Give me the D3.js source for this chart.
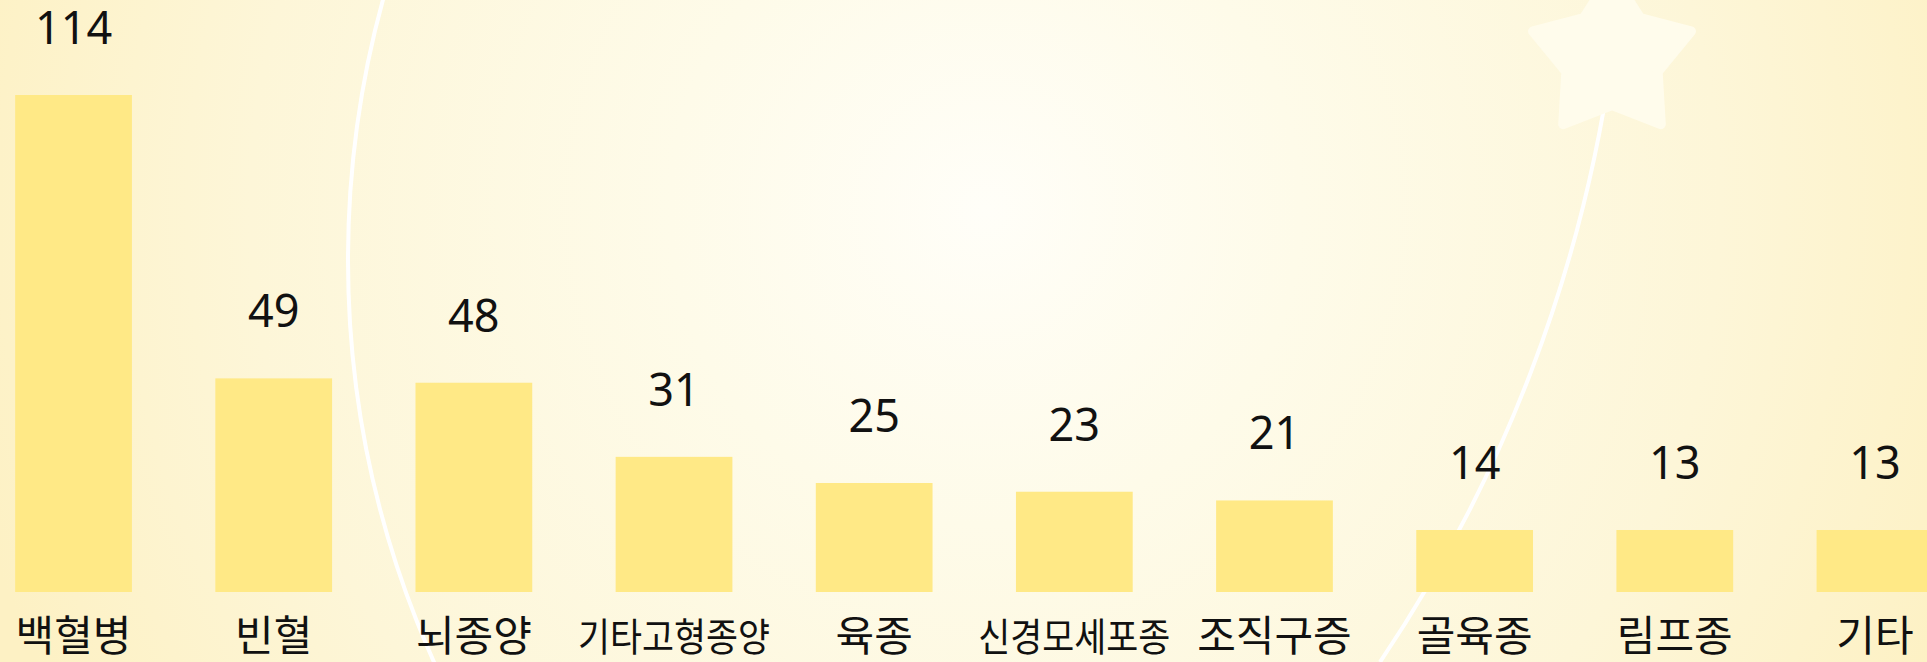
<!DOCTYPE html>
<html lang="ko">
<head>
<meta charset="UTF-8">
<title>소아암 종류별 환자 수</title>
<script src="https://d3js.org/d3.v7.min.js"></script>
<style>
  html, body { margin: 0; padding: 0; overflow: hidden; }
  svg { display: block; }
</style>
</head>
<body>
<script>
var categories = ['백혈병', '빈혈', '뇌종양', '기타고형종양', '육종', '신경모세포종', '조직구증', '골육종', '림프종', '기타'];
var values = [114, 49, 48, 31, 25, 23, 21, 14, 13, 13];

var width = 1927, height = 662;
var baseY = 592;
var minBar = 62;

var svg = d3.select('body').append('svg')
    .attr('width', width)
    .attr('height', height);

// background glow
var defs = svg.append('defs');
var grad = defs.append('radialGradient')
    .attr('id', 'bg')
    .attr('gradientUnits', 'userSpaceOnUse')
    .attr('cx', 985).attr('cy', 210).attr('r', 1050);
grad.append('stop').attr('offset', '0').attr('stop-color', '#fffef8');
grad.append('stop').attr('offset', '0.3').attr('stop-color', '#fefbe9');
grad.append('stop').attr('offset', '0.7').attr('stop-color', '#fdf6d8');
grad.append('stop').attr('offset', '1').attr('stop-color', '#fdf1c4');

svg.append('rect')
    .attr('width', width).attr('height', height)
    .attr('fill', 'url(#bg)');

// decorative white curves + star
var deco = svg.append('g');
deco.append('circle')
    .attr('cx', 1331).attr('cy', 260).attr('r', 983)
    .attr('fill', 'none')
    .attr('stroke', '#ffffff')
    .attr('stroke-width', 4);

var starX = 1612, starY = 57;
deco.append('path')
    .attr('d', 'M' + starX + ',' + starY + ' A1434,1434 0 0,1 1380,662')
    .attr('fill', 'none')
    .attr('stroke', '#ffffff')
    .attr('stroke-width', 4);

var starPts = d3.range(10).map(function(i) {
    var a = -Math.PI / 2 + i * Math.PI / 5;
    var r = i % 2 === 0 ? 83 : 48;
    return [starX + r * Math.cos(a), starY + r * Math.sin(a)];
});
deco.append('path')
    .attr('d', d3.line()(starPts) + 'Z')
    .attr('fill', '#fffcec')
    .attr('stroke', '#fffcec')
    .attr('stroke-width', 10)
    .attr('stroke-linejoin', 'round');

// scales
var x = d3.scaleBand()
    .domain(categories)
    .range([-1.5, 1950])
    .paddingInner(0.4167)
    .paddingOuter(0.0833);

var y = d3.scaleLinear()
    .domain([0, 114])
    .range([baseY, 95]);

function barTop(v) {
    return Math.min(y(v), baseY - minBar);
}

var data = categories.map(function(c, i) { return { name: c, value: values[i] }; });

svg.selectAll('rect.bar')
    .data(data)
    .enter()
    .append('rect')
    .attr('class', 'bar')
    .attr('x', function(d) { return x(d.name); })
    .attr('y', function(d) { return barTop(d.value); })
    .attr('width', x.bandwidth())
    .attr('height', function(d) { return baseY - barTop(d.value); })
    .attr('fill', '#ffe986');

svg.selectAll('text.val')
    .data(data)
    .enter()
    .append('text')
    .attr('class', 'val')
    .attr('x', function(d) { return x(d.name) + x.bandwidth() / 2; })
    .attr('y', function(d) { return barTop(d.value) - 51; })
    .attr('text-anchor', 'middle')
    .attr('font-family', '"Noto Sans", sans-serif')
    .attr('font-size', '45px')
    .attr('fill', '#111')
    .text(function(d) { return d.value; });

// long names are squeezed to fit the band, as in the original
var maxLabel = 192;
svg.selectAll('text.cat')
    .data(data)
    .enter()
    .append('text')
    .attr('class', 'cat')
    .attr('x', function(d) { return x(d.name) + x.bandwidth() / 2; })
    .attr('y', 651)
    .attr('text-anchor', 'middle')
    .attr('font-family', '"Noto Sans CJK KR", sans-serif')
    .attr('font-size', '42px')
    .attr('fill', '#111')
    .text(function(d) { return d.name; })
    .each(function() {
        var t = d3.select(this);
        if (this.getComputedTextLength() > maxLabel) {
            t.attr('font-size', '39px');
            t.attr('textLength', maxLabel).attr('lengthAdjust', 'spacingAndGlyphs');
        }
    });
</script>
</body>
</html>
